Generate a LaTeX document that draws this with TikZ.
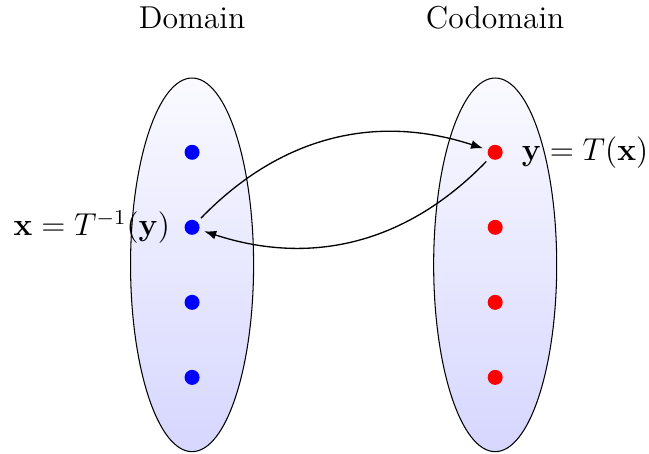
\documentclass[tikz,border=0pt]{standalone}
\usepackage{amsmath}
\usepackage{tikz}
\usetikzlibrary{arrows.meta,positioning}
\tikzset{
  setshape/.style={draw=black, top color=blue!2, bottom color=blue!16},
  bluedot/.style={circle, fill=blue, minimum size=0.2cm, inner sep=0pt, outer sep=2pt},
  reddot/.style={circle, fill=red, minimum size=0.2cm, inner sep=0pt, outer sep=2pt},
  maparrow/.style={-{Latex[length=1.6mm,width=1.2mm]}, line width=0.5pt},
  settitle/.style={font=\large}
}
\begin{document}
\begin{tikzpicture}
\useasboundingbox (-2.56,-2.51) rectangle (6.09,3.53);
\path[setshape] (0,0) ellipse (0.82 and 2.49);
\path[setshape] (4.04,0) ellipse (0.82 and 2.49);
\node[settitle] (dom) at (0,3.29) {Domain};
\node[settitle] (cod) at (4.04,3.29) {Codomain};
\node[bluedot] (x1) at (0,1.5) {};
\node[bluedot] (x2) at (0,0.5) {};
\node[bluedot] (x3) at (0,-0.5) {};
\node[bluedot] (x4) at (0,-1.5) {};
\node[reddot] (y1) at (4.04,1.5) {};
\node[reddot] (y2) at (4.04,0.5) {};
\node[reddot] (y3) at (4.04,-0.5) {};
\node[reddot] (y4) at (4.04,-1.5) {};
\node[left=0cm of x2, font=\large] (xlab) {$\mathbf{x}=T^{-1}(\mathbf{y})$};
\node[right=0.06cm of y1, font=\large] (ylab) {$\mathbf{y}=T(\mathbf{x})$};
\draw[maparrow] (x2) to[bend left=32] (y1);
\draw[maparrow] (y1) to[bend left=32] (x2);
\end{tikzpicture}
\end{document}
